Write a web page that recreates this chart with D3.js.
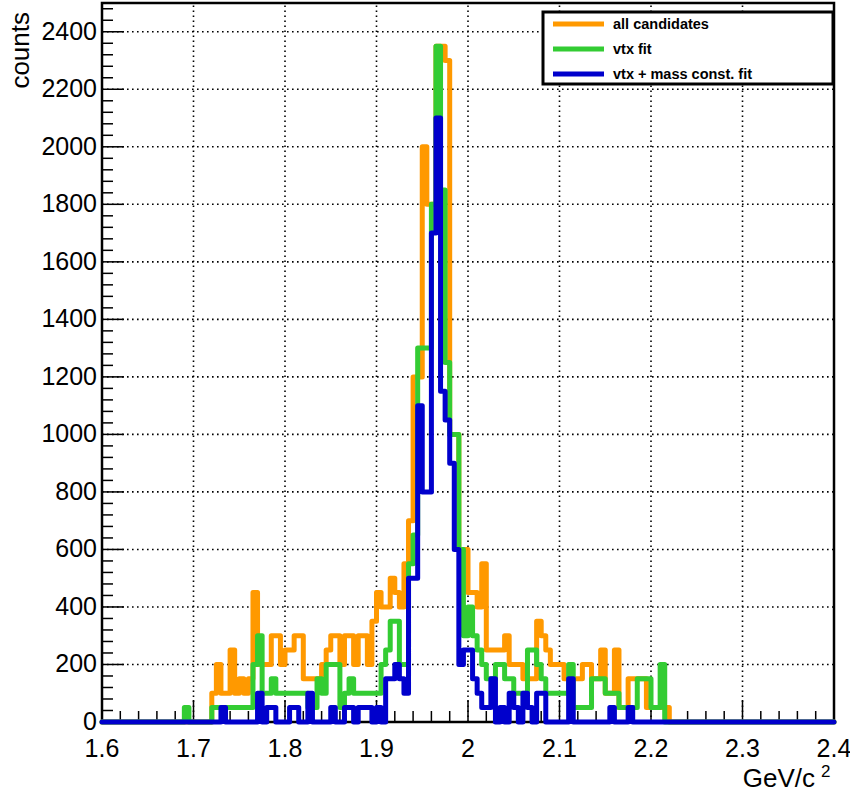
<!DOCTYPE html>
<html><head><meta charset="utf-8">
<script src="https://cdn.jsdelivr.net/npm/d3@7"></script>
<style>
body{margin:0;background:#fff}
svg{display:block}
text{font-family:"Liberation Sans",Arial,Helvetica,sans-serif;fill:#000}
</style>
</head><body>
<svg id="chart" width="850" height="793"></svg>
<script>
// ---- data ----
const xMin = 1.6, xMax = 2.4;
const binWidth = 0.005;
const firstBinLow = 1.69;          // lower edge of the first listed bin
const allCandidates = [
  0,0,0,0,0,0,100,200,100,100,
  250,100,150,100,150,450,200,200,200,300,
  300,200,250,250,300,300,150,150,150,150,
  200,250,300,300,200,300,300,200,300,300,
  200,350,450,400,400,500,450,400,550,700,
  1200,1200,2000,1800,1800,2350,2350,2300,1000,1000,
  600,600,450,450,400,550,250,250,250,250,
  300,200,200,200,150,150,150,350,300,250,
  200,200,200,150,150,150,150,200,200,150,
  150,250,100,100,250,50,50,150,150,150,
  150,50,50,50,50,50,0
];
const vtxFit = [
  50,0,0,0,0,0,50,50,50,50,
  50,50,50,50,50,200,300,100,100,150,
  100,100,100,100,100,100,100,50,50,150,
  100,200,200,200,50,100,150,100,100,100,
  100,100,100,200,250,350,350,200,200,550,
  650,1300,1300,1300,1800,2350,1850,1250,1000,1000,
  600,300,400,300,250,200,150,150,200,200,
  150,150,100,100,100,250,250,200,150,100,
  100,100,100,100,200,50,50,50,50,150,
  150,150,100,100,100,50,50,50,50,150,
  150,150,50,50,200,0,0
];
const vtxMassFit = [
  0,0,0,0,0,0,0,0,50,0,
  0,0,0,0,0,0,100,0,50,50,
  0,0,0,50,50,0,0,100,0,0,
  0,0,50,0,0,50,50,0,50,50,
  50,0,50,0,150,150,200,150,100,500,
  500,1100,800,800,1700,2100,1150,1050,900,600,
  200,250,250,150,100,50,50,150,0,50,
  0,100,50,0,100,50,0,100,100,0,
  0,0,0,0,150,0,0,0,0,0,
  0,0,0,50,0,0,0,50,0,0,
  0,0,0,0,0,0,0
];
const seriesNames = ["all candidates", "vtx fit", "vtx + mass const. fit"];
const seriesColors = ["#ff9900", "#33cc33", "#0000cc"];
const xTickLabels = ["1.6","1.7","1.8","1.9","2","2.1","2.2","2.3","2.4"];
const yTickLabels = ["0","200","400","600","800","1000","1200","1400","1600","1800","2000","2200","2400"];
const yMax = 2500;

// ---- layout ----
const svg = d3.select("#chart");
const L = 102, R = 834, T = 3, B = 722;
const x = d3.scaleLinear().domain([xMin, xMax]).range([L, R]);
const y = d3.scaleLinear().domain([0, yMax]).range([B, T]);

const xMajor = xTickLabels.map(Number);
const yMajor = yTickLabels.map(Number);
const xMinor = d3.range(0, 41).map(i => xMin + i * 0.02);
const yMinor = d3.range(0, Math.floor(yMax / 40) + 1).map(i => i * 40);

// grid
const grid = svg.append("g").attr("stroke", "#000").attr("stroke-width", 1.6)
  .attr("stroke-dasharray", "1.6 3.4");
xMajor.forEach(v => grid.append("line").attr("x1", x(v)).attr("x2", x(v)).attr("y1", B).attr("y2", T));
yMajor.forEach(v => grid.append("line").attr("x1", L).attr("x2", R).attr("y1", y(v)).attr("y2", y(v)));

// frame
svg.append("rect").attr("x", L).attr("y", T).attr("width", R - L).attr("height", B - T)
  .attr("fill", "none").attr("stroke", "#000").attr("stroke-width", 2.5);

// ticks
const tk = svg.append("g").attr("stroke", "#000").attr("stroke-width", 1.5);
xMinor.forEach(v => {
  const major = xMajor.some(m => Math.abs(m - v) < 1e-6);
  tk.append("line").attr("x1", x(v)).attr("x2", x(v)).attr("y1", B).attr("y2", B - (major ? 22 : 11));
});
yMinor.forEach(v => {
  const major = yMajor.some(m => Math.abs(m - v) < 1e-6);
  tk.append("line").attr("x1", L).attr("x2", L + (major ? 22 : 11)).attr("y1", y(v)).attr("y2", y(v));
});

// tick labels
xTickLabels.forEach(t => svg.append("text").attr("x", x(+t)).attr("y", 757)
  .attr("text-anchor", "middle").attr("font-size", 25).text(t));
yTickLabels.forEach(t => svg.append("text").attr("x", 97).attr("y", y(+t) + 8)
  .attr("text-anchor", "end").attr("font-size", 25).text(t));

// axis titles
svg.append("text").attr("transform", "translate(29,12) rotate(-90)")
  .attr("text-anchor", "end").attr("font-size", 26).text("counts");
svg.append("text").attr("x", 815).attr("y", 787).attr("text-anchor", "end")
  .attr("font-size", 26).text("GeV/c");
svg.append("text").attr("x", 821).attr("y", 777).attr("font-size", 17).text("2");

// histograms
const line = d3.line().x(d => x(d[0])).y(d => y(d[1]));
function stepPoints(values) {
  const pts = [[xMin, 0], [firstBinLow, 0]];
  values.forEach((v, i) => {
    const lo = firstBinLow + i * binWidth;
    pts.push([lo, v], [lo + binWidth, v]);
  });
  pts.push([firstBinLow + values.length * binWidth, 0], [xMax, 0]);
  return pts;
}
[allCandidates, vtxFit, vtxMassFit].forEach((vals, i) => {
  svg.append("path").attr("d", line(stepPoints(vals)))
    .attr("fill", "none").attr("stroke", seriesColors[i]).attr("stroke-width", 5)
    .attr("stroke-linejoin", "round").attr("stroke-linecap", "round");
});

// legend
const lg = svg.append("g");
lg.append("rect").attr("x", 543).attr("y", 12).attr("width", 290).attr("height", 72)
  .attr("fill", "#fff").attr("stroke", "#000").attr("stroke-width", 3);
const rowY = [24, 49, 74];
seriesNames.forEach((n, i) => {
  lg.append("line").attr("x1", 553).attr("x2", 604).attr("y1", rowY[i]).attr("y2", rowY[i])
    .attr("stroke", seriesColors[i]).attr("stroke-width", 5);
  lg.append("text").attr("x", 613).attr("y", rowY[i] + 5).attr("font-size", 14.5)
    .attr("font-weight", "bold").text(n);
});
</script>
</body></html>
